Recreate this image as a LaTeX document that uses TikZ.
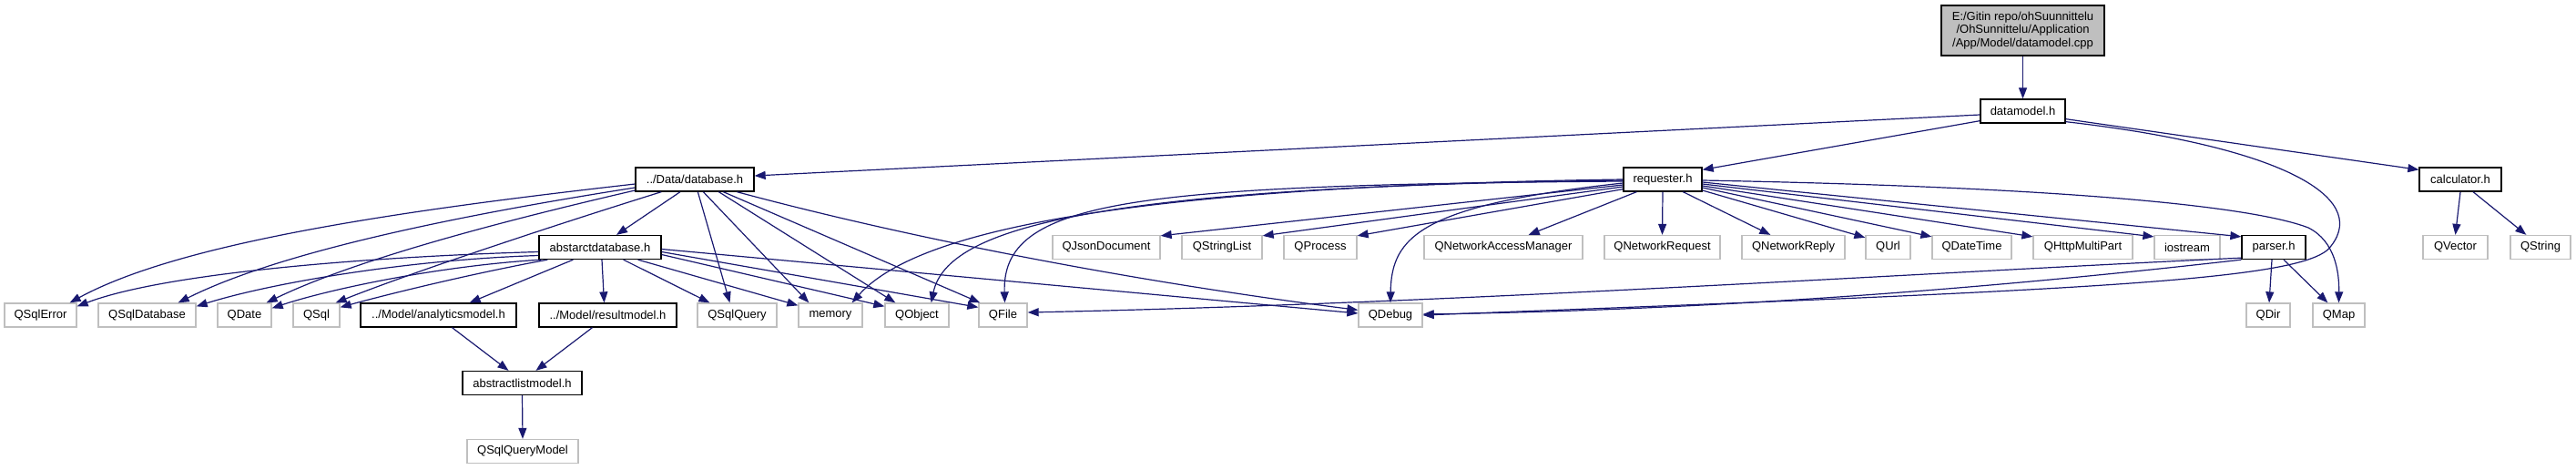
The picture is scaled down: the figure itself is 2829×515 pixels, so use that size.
\documentclass[tikz,border=0pt]{standalone}
\usepackage{fontspec}
\setmainfont{Liberation Sans}
\usetikzlibrary{arrows.meta,calc}
\definecolor{edgec}{HTML}{191970}
\definecolor{extc}{HTML}{BFBFBF}
\begin{document}
\begin{tikzpicture}[x=1pt,y=-1pt,
  box/.style={rectangle, inner sep=0pt, minimum height=26pt, line width=1.3pt, fill=white, font=\fontsize{13}{14.3}\selectfont},
  proj/.style={box, draw=black},
  ext/.style={box, draw=extc},
  dep/.style={draw=edgec, line width=1.2pt, -{Triangle[length=12pt,width=9pt]}}]
\useasboundingbox (0,0) rectangle (2829,515);
% row 0/1
\node[box, draw=black, fill=extc, minimum width=179pt, minimum height=55pt, align=center] (main) at (2221.5,33.5) {E:/Gitin repo/ohSuunnittelu\\/OhSunnittelu/Application\\/App/Model/datamodel.cpp};
\node[proj, minimum width=93pt] (dm) at (2221.5,122) {datamodel.h};
% row 2
\node[proj, minimum width=130pt] (db) at (763,197) {../Data/database.h};
\node[proj, minimum width=86pt] (req) at (1826,197) {requester.h};
\node[proj, minimum width=90pt] (calc) at (2702,197) {calculator.h};
% row 3
\node[proj, minimum width=134pt] (adb) at (659,271.5) {abstarctdatabase.h};
\node[ext, minimum width=118pt] (qjson) at (1215,271.5) {QJsonDocument};
\node[ext, minimum width=88pt] (qsl) at (1342,271.5) {QStringList};
\node[ext, minimum width=80pt] (qproc) at (1450,271.5) {QProcess};
\node[ext, minimum width=174pt] (qnam) at (1651,271.5) {QNetworkAccessManager};
\node[ext, minimum width=127pt] (qnreq) at (1825.5,271.5) {QNetworkRequest};
\node[ext, minimum width=113pt] (qnrep) at (1969.5,271.5) {QNetworkReply};
\node[ext, minimum width=49pt] (qurl) at (2073.5,271.5) {QUrl};
\node[ext, minimum width=87pt] (qdt) at (2165.5,271.5) {QDateTime};
\node[ext, minimum width=109pt] (qhttp) at (2287.5,271.5) {QHttpMultiPart};
\node[ext, minimum width=72pt] (ios) at (2402,271.5) {iostream};
\node[proj, minimum width=70pt] (parser) at (2497,271.5) {parser.h};
\node[ext, minimum width=71pt] (qvec) at (2696.5,271.5) {QVector};
\node[ext, minimum width=66pt] (qstr) at (2790,271.5) {QString};
% row 4
\node[ext, minimum width=79pt] (qsqlerr) at (44.5,346) {QSqlError};
\node[ext, minimum width=107pt] (qsqldb) at (161.5,346) {QSqlDatabase};
\node[ext, minimum width=59pt] (qdate) at (268.5,346) {QDate};
\node[ext, minimum width=51pt] (qsql) at (347.5,346) {QSql};
\node[proj, minimum width=171pt] (anm) at (481.5,346) {../Model/analyticsmodel.h};
\node[proj, minimum width=151pt] (rsm) at (667.5,346) {../Model/resultmodel.h};
\node[ext, minimum width=87pt] (qsqlq) at (809.5,346) {QSqlQuery};
\node[ext, minimum width=70pt] (mem) at (912,346) {memory};
\node[ext, minimum width=70pt] (qobj) at (1007,346) {QObject};
\node[ext, minimum width=53pt] (qfile) at (1101.5,346) {QFile};
\node[ext, minimum width=70pt] (qdbg) at (1527,346) {QDebug};
\node[ext, minimum width=48pt] (qdir) at (2491,346) {QDir};
\node[ext, minimum width=57pt] (qmap) at (2568.5,346) {QMap};
% row 5/6
\node[proj, minimum width=131pt] (alm) at (573.5,420.5) {abstractlistmodel.h};
\node[ext, minimum width=122pt] (qsqm) at (574,495.5) {QSqlQueryModel};

% edges: main / datamodel
\draw[dep] (main) -- (dm);
\draw[dep] ($(dm.west)+(0,4)$) -- ($(db.east)+(0,-4)$);
\draw[dep] ($(dm.south west)+(0,-3)$) -- ($(req.north east)+(0,3)$);
\draw[dep] ($(dm.south east)+(0,-5)$) -- ($(calc.north west)+(0,3)$);
\draw[dep] ($(dm.south east)+(0,-2)$) .. controls (2500,160) and (2603,215) .. (2560,270) .. controls (2535,308) and (2300,318) .. (qdbg.east);
% calculator
\draw[dep] (calc.south) -- (qvec.north);
\draw[dep] ($(calc.south)+(14,0)$) -- ($(qstr.north west)+(18,0)$);
% database
\draw[dep] ($(db.south)+(-16,0)$) -- ($(adb.north)+(18,0)$);
\draw[dep] ($(db.west)+(0,5)$) .. controls (450,230) and (200,265) .. ($(qsqlerr.north east)+(-8,0)$);
\draw[dep] ($(db.west)+(0,9)$) .. controls (480,240) and (300,280) .. ($(qsqldb.north east)+(-20,0)$);
\draw[dep] ($(db.west)+(0,12)$) .. controls (520,250) and (380,290) .. ($(qdate.north east)+(-6,0)$);
\draw[dep] ($(db.south west)+(29,0)$) .. controls (600,250) and (450,300) .. ($(qsql.north east)+(-5,0)$);
\draw[dep] ($(db.south west)+(69,0)$) -- ($(qsqlq.north)+(-8,0)$);
\draw[dep] ($(db.south west)+(75,0)$) -- ($(mem.north west)+(12,0)$);
\draw[dep] ($(db.south west)+(92,0)$) -- ($(qobj.north west)+(12,0)$);
\draw[dep] ($(db.south west)+(97,0)$) -- ($(qfile.north west)+(2,0)$);
\draw[dep] ($(db.south west)+(112,0)$) .. controls (1000,262) and (1250,310) .. ($(qdbg.north west)+(0,8)$);
% abstarctdatabase
\draw[dep] ($(adb.west)+(0,5)$) .. controls (400,282) and (180,300) .. ($(qsqlerr.north east)+(0,4)$);
\draw[dep] ($(adb.west)+(0,9)$) .. controls (450,285) and (300,310) .. ($(qsqldb.north east)+(0,4)$);
\draw[dep] ($(adb.south west)+(3,0)$) .. controls (480,292) and (360,318) .. ($(qdate.north east)+(0,6)$);
\draw[dep] ($(adb.south west)+(10,0)$) .. controls (520,300) and (430,322) .. ($(qsql.north east)+(0,5)$);
\draw[dep] ($(adb.south west)+(38,0)$) -- ($(anm.north east)+(-52,0)$);
\draw[dep] ($(adb.south)+(2,0)$) -- ($(rsm.north)+(-4,0)$);
\draw[dep] ($(adb.south east)+(-42,0)$) -- ($(qsqlq.north west)+(14,0)$);
\draw[dep] ($(adb.south east)+(-26,0)$) -- ($(mem.north west)+(0,3)$);
\draw[dep] ($(adb.east)+(0,8)$) -- ($(qobj.north west)+(0,4)$);
\draw[dep] ($(adb.east)+(0,5)$) -- ($(qfile.north west)+(0,5)$);
\draw[dep] ($(adb.east)+(0,2)$) -- ($(qdbg.west)+(0,-2)$);
% requester
\draw[dep] ($(req.west)+(0,6)$) -- ($(qjson.north east)+(0,1)$);
\draw[dep] ($(req.west)+(0,8)$) -- ($(qsl.north east)+(0,1)$);
\draw[dep] ($(req.south west)+(0,-3)$) -- ($(qproc.north east)+(0,1)$);
\draw[dep] ($(req.south west)+(15,0)$) -- ($(qnam.north east)+(-60,0)$);
\draw[dep] (req.south) -- (qnreq.north);
\draw[dep] ($(req.south west)+(66,0)$) -- ($(qnrep.north west)+(32,0)$);
\draw[dep] ($(req.east)+(0,12)$) -- ($(qurl.north west)+(0,3)$);
\draw[dep] ($(req.east)+(0,9)$) -- ($(qdt.north west)+(0,2)$);
\draw[dep] ($(req.east)+(0,7)$) -- ($(qhttp.north west)+(0,2)$);
\draw[dep] ($(req.east)+(0,5)$) -- ($(ios.north west)+(0,2)$);
\draw[dep] ($(req.east)+(0,3)$) -- ($(parser.north west)+(0,2)$);
\draw[dep] ($(req.east)+(0,1)$) .. controls (2250,205) and (2470,225) .. (2535,250) .. controls (2565,265) and (2569,300) .. (qmap.north);
\draw[dep] (req.west) .. controls (1200,205) and (1000,260) .. ($(mem.north east)+(-12,0)$);
\draw[dep] ($(req.west)+(0,1)$) .. controls (1200,205) and (1040,250) .. ($(qobj.north east)+(-20,0)$);
\draw[dep] ($(req.west)+(0,2)$) .. controls (1240,203) and (1100,220) .. ($(qfile.north)+(2,0)$);
\draw[dep] ($(req.west)+(0,4)$) .. controls (1560,225) and (1528,260) .. (qdbg.north);
% parser
\draw[dep] ($(parser.south)+(-2,0)$) -- ($(qdir.north)+(1,0)$);
\draw[dep] ($(parser.south)+(11,0)$) -- ($(qmap.north west)+(17,0)$);
\draw[dep] ($(parser.south west)+(0,-2)$) .. controls (2100,300) and (1600,333) .. ($(qfile.east)+(0,-3)$);
\draw[dep] (parser.south west) .. controls (2200,315) and (1900,340) .. ($(qdbg.east)+(0,-1)$);
% list models
\draw[dep] ($(anm.south)+(15,0)$) -- ($(alm.north)+(-15,0)$);
\draw[dep] ($(rsm.south)+(-17,0)$) -- ($(alm.north)+(15,0)$);
\draw[dep] (alm.south) -- (qsqm.north);
\end{tikzpicture}
\end{document}
